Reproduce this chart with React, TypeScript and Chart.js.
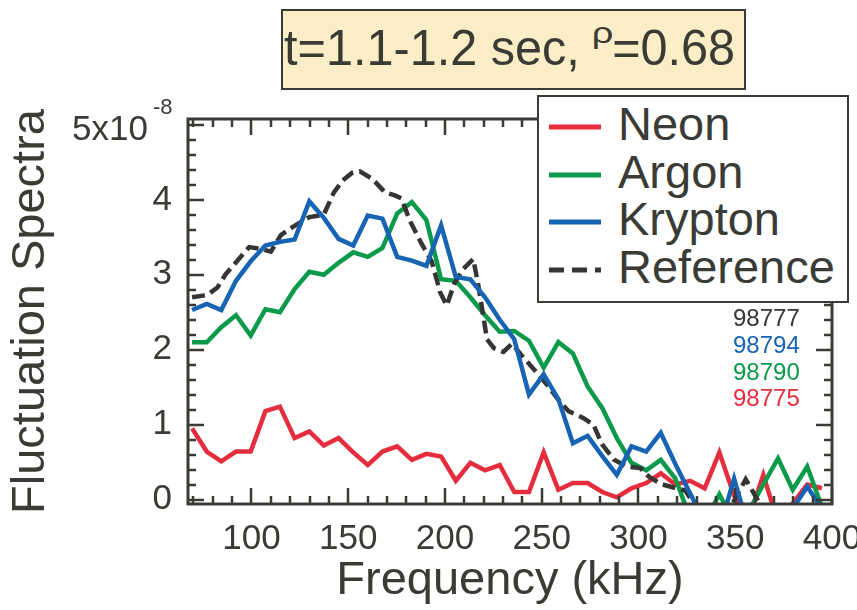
import React, { useEffect, useLayoutEffect, useRef } from 'react';
import { Chart, registerables } from 'chart.js';

Chart.register(...registerables);

const FONT = "'Liberation Sans', Arial, Helvetica, sans-serif";
const INK = '#3b3b36';

// Frequency bins (kHz) shared by the three gas spectra
const frequency = [
  69.3, 76.9, 84.4, 92.0, 99.6, 107.2, 114.7, 122.3, 129.9, 137.4, 145.0,
  152.6, 160.1, 167.7, 175.3, 182.9, 190.4, 198.0, 205.6, 213.1, 220.7,
  228.3, 235.8, 243.4, 251.0, 258.6, 266.1, 273.7, 281.3, 288.8, 296.4,
  304.0, 311.5, 319.1, 326.7, 334.2, 341.8, 349.4, 357.0, 364.5, 372.1,
  379.7, 387.2, 394.8,
];

// Fluctuation spectra in units of 1e-8
const neon = [
  0.95, 0.64, 0.51, 0.64, 0.64, 1.18, 1.24, 0.82, 0.91, 0.72, 0.82,
  0.63, 0.46, 0.64, 0.71, 0.53, 0.61, 0.575, 0.25, 0.49, 0.39,
  0.46, 0.10, 0.10, 0.63, 0.13, 0.22, 0.22, 0.10, 0.03, 0.15,
  0.22, 0.35, 0.20, 0.25, 0.15, 0.63, 0.05, -0.25, 0.33, -0.31,
  -0.05, 0.20, 0.15,
];

const argon = [
  2.10, 2.10, 2.30, 2.46, 2.19, 2.54, 2.50, 2.81, 3.04, 3.00, 3.16,
  3.30, 3.24, 3.36, 3.82, 3.97, 3.73, 2.94, 2.92, 2.70, 2.46,
  2.24, 2.25, 2.12, 1.76, 2.10, 1.95, 1.51, 1.22, 0.82, 0.49,
  0.39, 0.53, 0.28, -0.25, -0.30, 0.07, -0.30, -0.15, 0.20, 0.55,
  0.13, 0.44, -0.10,
];

const krypton = [
  2.53, 2.61, 2.53, 2.92, 3.18, 3.39, 3.44, 3.47, 3.98, 3.76, 3.48,
  3.39, 3.79, 3.75, 3.24, 3.19, 3.12, 3.66, 2.97, 2.94, 2.70,
  2.40, 2.14, 1.40, 1.67, 1.34, 0.75, 0.85, 0.58, 0.33, 0.71,
  0.64, 0.89, 0.47, 0.08, -0.30, -0.40, 0.28, -0.40, -0.30, -0.30,
  -0.12, 0.17, -0.12,
];

// Reference spectrum (finer sampling)
const refFrequency = [
  69.3, 77.2, 82.4, 86.7, 92.8, 98.8, 103.9, 110.0, 115.2, 121.4, 129.9,
  137.3, 142.6, 147.2, 151.9, 156.0, 162.5, 169.0, 174.1, 177.5, 181.9,
  187.6, 193.1, 195.9, 197.4, 200.9, 205.1, 209.5, 214.6, 217.1, 219.8,
  221.7, 225.3, 230.2, 234.7, 239.7, 246.6, 253.4, 258.6, 263.8, 271.4,
  276.7, 281.1, 287.4, 294.0, 300.9, 305.2, 311.2, 318.0, 324.2, 329.6,
  336.2, 346.6, 355.4, 363.7, 375.0, 399.0,
];
const reference = [
  2.70, 2.73, 2.83, 3.01, 3.19, 3.37, 3.35, 3.31, 3.53, 3.64, 3.77,
  3.80, 4.10, 4.26, 4.36, 4.38, 4.28, 4.10, 4.06, 4.02, 3.72,
  3.43, 3.18, 2.92, 2.77, 2.59, 2.90, 3.08, 3.21, 2.88, 2.45,
  2.14, 2.02, 1.97, 2.08, 1.92, 1.72, 1.51, 1.33, 1.18, 1.09,
  1.00, 0.74, 0.53, 0.44, 0.42, 0.31, 0.21, 0.16, 0.12, -0.10,
  -0.30, -0.15, 0.27, -0.10, -0.40, -0.40,
];

const xLabelTicks = [100, 150, 200, 250, 300, 350, 400];
const xMinorTicks = [70, 80, 90, 110, 120, 130, 140, 160, 170, 180, 190, 210, 220, 230, 240, 260, 270, 280, 290, 310, 320, 330, 340, 360, 370, 380, 390];
const yLabelTicks = [0, 1, 2, 3, 4, 5];
const yMinorTicks = [0.2, 0.4, 0.6, 0.8, 1.2, 1.4, 1.6, 1.8, 2.2, 2.4, 2.6, 2.8, 3.2, 3.4, 3.6, 3.8, 4.2, 4.4, 4.6, 4.8];

const seriesNames = ['Neon', 'Argon', 'Krypton', 'Reference'];
const seriesColors = ['#e62d3d', '#0b9a4a', '#1764b4', '#353533'];
const shotNumbers = ['98777', '98794', '98790', '98775'];
const shotColors = ['#353533', '#1764b4', '#0b9a4a', '#e62d3d'];

const framePlugin = {
  id: 'frameTicks',
  afterDraw(chart: any) {
    const { ctx, chartArea: a, scales } = chart;
    const xs = scales.x;
    const ys = scales.y;
    ctx.save();
    ctx.strokeStyle = INK;
    ctx.lineWidth = 2.5;
    ctx.beginPath();
    const xt = (v: number, len: number) => {
      const p = Math.round(xs.getPixelForValue(v));
      ctx.moveTo(p, a.bottom);
      ctx.lineTo(p, a.bottom - len);
      ctx.moveTo(p, a.top);
      ctx.lineTo(p, a.top + len);
    };
    const yt = (v: number, len: number) => {
      const p = Math.round(ys.getPixelForValue(v));
      ctx.moveTo(a.left, p);
      ctx.lineTo(a.left + len, p);
      ctx.moveTo(a.right, p);
      ctx.lineTo(a.right - len, p);
    };
    xLabelTicks.forEach((v) => xt(v, 16));
    xMinorTicks.forEach((v) => xt(v, 8));
    yLabelTicks.forEach((v) => yt(v, 16));
    yMinorTicks.forEach((v) => yt(v, 8));
    ctx.stroke();
    ctx.lineWidth = 3;
    ctx.strokeRect(a.left, a.top, a.right - a.left, a.bottom - a.top);
    ctx.restore();
  },
};

function LegendLine({ color, dashed }: { color: string; dashed: boolean }) {
  return (
    <svg width="54" height="10" style={{ position: 'absolute', left: 9, top: -5 }}>
      <line x1="1" y1="5" x2="53" y2="5" stroke={color} strokeWidth="5" strokeDasharray={dashed ? '15 8' : undefined} />
    </svg>
  );
}

export default function App() {
  const canvasRef = useRef<HTMLCanvasElement | null>(null);
  const titleRef = useRef<HTMLSpanElement | null>(null);

  useLayoutEffect(() => {
    const el = titleRef.current;
    if (el) {
      const w = el.offsetWidth;
      if (w > 0) el.style.transform = `scaleX(${451 / w})`;
    }
  }, []);

  useEffect(() => {
    if (!canvasRef.current) return;
    const mk = (xsArr: number[], ysArr: number[]) => xsArr.map((x, i) => ({ x, y: ysArr[i] }));
    const chart = new Chart(canvasRef.current, {
      type: 'line',
      data: {
        datasets: [
          { label: seriesNames[0], data: mk(frequency, neon), borderColor: seriesColors[0], order: 4 },
          { label: seriesNames[1], data: mk(frequency, argon), borderColor: seriesColors[1], order: 3 },
          { label: seriesNames[3], data: mk(refFrequency, reference), borderColor: seriesColors[3], borderDash: [13, 6], order: 2 },
          { label: seriesNames[2], data: mk(frequency, krypton), borderColor: seriesColors[2], order: 1 },
        ].map((d) => ({ ...d, borderWidth: 4.5, pointRadius: 0, tension: 0, fill: false, clip: 0, borderJoinStyle: 'miter' as const })),
      },
      options: {
        animation: false,
        responsive: false,
        maintainAspectRatio: false,
        layout: { padding: { top: 119, right: 25, left: 0, bottom: 0 } },
        plugins: { legend: { display: false }, tooltip: { enabled: false }, title: { display: false } },
        scales: {
          x: {
            type: 'linear',
            min: 67.2,
            max: 400,
            grid: { display: false },
            border: { display: false },
            afterBuildTicks: (s: any) => { s.ticks = xLabelTicks.map((v) => ({ value: v })); },
            afterFit: (s: any) => { s.height = 106; s.paddingLeft = 0; s.paddingRight = 0; },
            ticks: {
              autoSkip: false,
              maxRotation: 0,
              padding: 6,
              color: INK,
              font: { family: FONT, size: 35 },
              callback: (v: any) => String(v),
            },
            title: {
              display: true,
              text: 'Frequency (kHz)',
              color: INK,
              font: { family: FONT, size: 47 },
              padding: { top: 0, bottom: 1 },
            },
          },
          y: {
            type: 'linear',
            min: -0.06,
            max: 5.08,
            grid: { display: false },
            border: { display: false },
            afterBuildTicks: (s: any) => { s.ticks = yLabelTicks.map((v) => ({ value: v })); },
            afterFit: (s: any) => { s.width = 188; s.paddingTop = 0; s.paddingBottom = 0; },
            ticks: {
              autoSkip: false,
              padding: 8,
              color: INK,
              font: { family: FONT, size: 35 },
              callback: (v: any) => (Number(v) === 5 ? '' : String(v)),
            },
            title: {
              display: true,
              text: 'Fluctuation Spectra',
              color: INK,
              font: { family: FONT, size: 47 },
              padding: { top: 3, bottom: 0 },
            },
          },
        },
      },
      plugins: [framePlugin],
    } as any);
    return () => chart.destroy();
  }, []);

  const legendBaselines = [140, 187.5, 235, 283];
  const shotBaselines = [326.7, 353.3, 380, 406.7];
  const bo = (fs: number) => fs * 0.8465; // baseline offset for line-height 1

  return (
    <div style={{ position: 'fixed', left: 0, top: 0, width: 857, height: 610, background: '#fff', overflow: 'hidden', fontFamily: FONT, color: INK }}>
      <canvas ref={canvasRef} width={857} height={610} style={{ position: 'absolute', left: 0, top: 0, width: 857, height: 610 }} />

      {/* title box */}
      <div style={{ position: 'absolute', left: 281, top: 9, width: 465, height: 81, boxSizing: 'border-box', border: `2px solid ${INK}`, background: '#fbeec6' }}>
        <span ref={titleRef} style={{ position: 'absolute', left: 1, top: 65 - 9 - 2 - bo(50), fontSize: 50, lineHeight: '50px', height: 50, whiteSpace: 'nowrap', transformOrigin: 'left top', display: 'inline-block' }}>
          t=1.1-1.2 sec, <span style={{ fontSize: 34, position: 'relative', top: -20, lineHeight: '10px', display: 'inline-block', transform: 'scale(1.15, 0.85)' }}>ρ</span>=0.68
        </span>
      </div>

      {/* y-axis exponent label */}
      <div style={{ position: 'absolute', left: 0, width: 148, top: 139.5 - bo(35), fontSize: 35, lineHeight: '35px', textAlign: 'right', whiteSpace: 'nowrap' }}>5x10</div>
      <div style={{ position: 'absolute', left: 153, top: 115 - bo(22), fontSize: 22, lineHeight: '22px', whiteSpace: 'nowrap' }}>-8</div>

      {/* legend */}
      <div style={{ position: 'absolute', left: 537, top: 95, width: 312, height: 208, boxSizing: 'border-box', border: `2px solid ${INK}`, background: '#fff' }}>
        {seriesNames.map((name, i) => (
          <div key={name} style={{ position: 'absolute', left: 0, top: legendBaselines[i] - 95 - 2 - 13 }}>
            <LegendLine color={seriesColors[i]} dashed={i === 3} />
            <div style={{ position: 'absolute', left: 79, top: 13 - bo(47), fontSize: 47, lineHeight: '47px', whiteSpace: 'nowrap' }}>{name}</div>
          </div>
        ))}
      </div>

      {/* shot numbers */}
      {shotNumbers.map((s, i) => (
        <div key={s} style={{ position: 'absolute', left: 733, top: shotBaselines[i] - bo(24), fontSize: 24, lineHeight: '24px', color: shotColors[i], whiteSpace: 'nowrap' }}>{s}</div>
      ))}
    </div>
  );
}
